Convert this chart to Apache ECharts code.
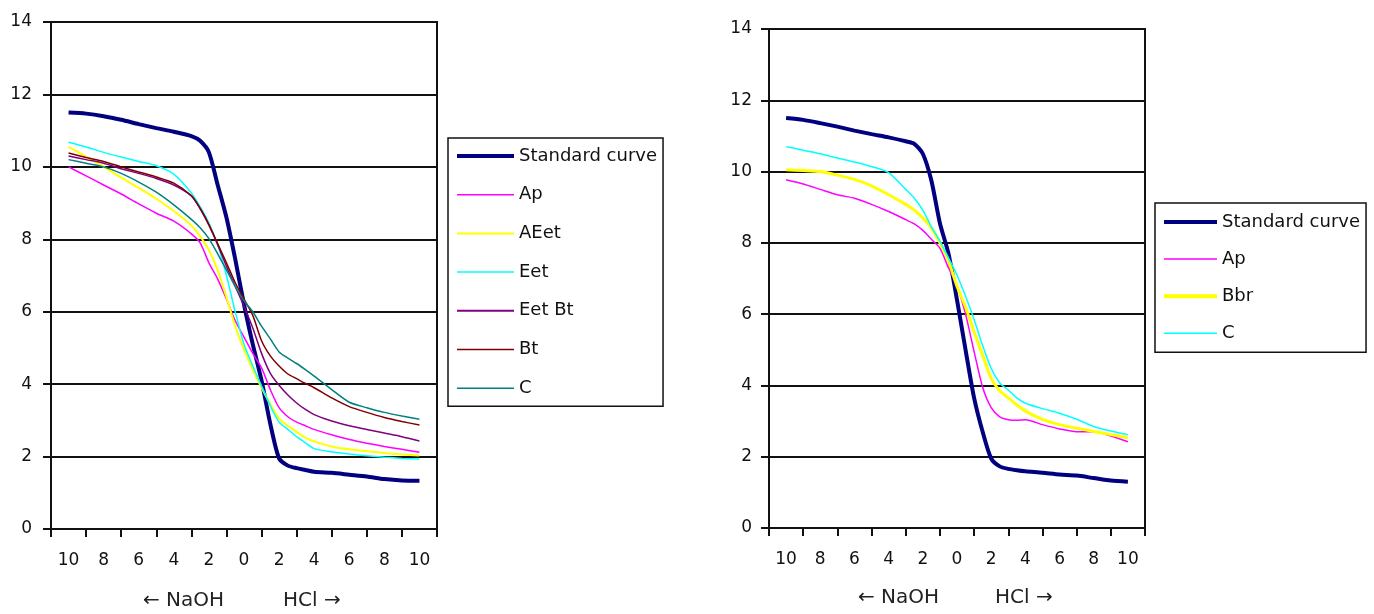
<!DOCTYPE html>
<html>
<head>
<meta charset="utf-8">
<script src="https://cdn.jsdelivr.net/npm/echarts@6/dist/echarts.min.js"></script>
<style>
html,body{margin:0;padding:0;background:#fff;}
#c{width:1374px;height:614px;}
</style>
</head>
<body>
<div id="c"></div>
<script>
// Category tick labels (ml of NaOH on the left, HCl on the right)
const xLabels = ['10','8','6','4','2','0','2','4','6','8','10'];
// Sample positions (negative = NaOH side, positive = HCl side)
const xs = [-10,-9,-8,-7,-6,-5,-4,-3,-2.5,-2,-1.5,-1,-0.5,0,0.5,1,1.5,2,2.5,3,3.5,4,5,6,7,8,9,10];

// Left chart series (pH)
const stdL   = [11.5,11.47,11.4,11.3,11.18,11.07,10.97,10.85,10.72,10.4,9.5,8.6,7.45,6.2,5.1,4.1,2.9,1.95,1.75,1.68,1.63,1.58,1.55,1.5,1.45,1.38,1.34,1.33];
const apL    = [10.0,9.75,9.5,9.25,8.98,8.72,8.5,8.15,7.9,7.35,6.9,6.35,5.75,5.3,4.85,4.45,3.85,3.35,3.1,2.95,2.85,2.75,2.6,2.47,2.37,2.28,2.2,2.12];
const aeetL  = [10.55,10.28,10.0,9.7,9.42,9.12,8.78,8.38,8.08,7.7,7.15,6.4,5.6,4.95,4.4,3.9,3.45,3.05,2.85,2.68,2.52,2.42,2.28,2.2,2.15,2.1,2.06,2.03];
const eetL   = [10.68,10.55,10.4,10.27,10.15,10.03,9.8,9.28,8.9,8.45,7.85,7.0,6.0,5.1,4.5,3.95,3.4,2.95,2.75,2.55,2.38,2.22,2.13,2.07,2.02,1.98,1.95,1.93];
const eetbtL = [10.3,10.2,10.1,9.95,9.82,9.68,9.5,9.2,8.85,8.4,7.85,7.25,6.7,6.15,5.55,4.85,4.3,3.97,3.7,3.48,3.3,3.16,2.98,2.85,2.75,2.65,2.55,2.43];
const btL    = [10.38,10.26,10.15,10.0,9.86,9.72,9.55,9.2,8.85,8.4,7.88,7.35,6.8,6.35,5.9,5.2,4.78,4.5,4.28,4.15,4.02,3.9,3.62,3.38,3.22,3.08,2.97,2.87];
const cL     = [10.2,10.1,10.0,9.82,9.58,9.3,8.95,8.55,8.32,8.02,7.6,7.15,6.7,6.3,6.0,5.6,5.25,4.89,4.72,4.57,4.4,4.22,3.85,3.5,3.35,3.22,3.12,3.03];

// Right chart series (pH)
const stdR = [11.5,11.45,11.36,11.26,11.15,11.05,10.96,10.85,10.78,10.5,9.75,8.55,7.7,6.4,5.0,3.65,2.7,1.95,1.73,1.66,1.62,1.59,1.55,1.5,1.47,1.4,1.33,1.3];
const apR  = [9.77,9.65,9.5,9.35,9.25,9.08,8.88,8.65,8.53,8.35,8.1,7.85,7.3,6.8,6.0,4.95,3.95,3.38,3.12,3.04,3.02,3.04,2.9,2.78,2.7,2.7,2.58,2.42];
const bbrR = [10.05,10.03,10.0,9.9,9.78,9.6,9.35,9.08,8.92,8.7,8.42,8.0,7.5,6.78,6.2,5.5,4.85,4.2,3.85,3.65,3.45,3.28,3.05,2.9,2.8,2.71,2.62,2.53];
const cR   = [10.7,10.6,10.5,10.38,10.27,10.14,9.97,9.5,9.25,8.92,8.45,8.05,7.58,7.1,6.5,5.85,5.12,4.48,4.07,3.87,3.65,3.5,3.35,3.22,3.05,2.85,2.72,2.62];

const namesL = ['Standard curve','Ap','AEet','Eet','Eet Bt','Bt','C'];
const namesR = ['Standard curve','Ap','Bbr','C'];

const FONT = 'DejaVu Sans';
const chart = echarts.init(document.getElementById('c'), null, {renderer:'canvas'});

function pts(ys){ return xs.map((x,i)=>[x, ys[i]]); }

function catAxis(gi){
  return {
    type:'category', gridIndex:gi, data:xLabels, boundaryGap:true,
    axisLine:{show:true, onZero:false, lineStyle:{color:'#111', width:2}},
    axisTick:{show:true, length:8, lineStyle:{color:'#111', width:2}, alignWithLabel:false},
    axisLabel:{color:'#111', fontSize:17, fontFamily:FONT, margin:23, interval:0},
    splitLine:{show:false}
  };
}
function valX(gi){
  return {type:'value', gridIndex:gi, min:-11, max:11, show:false};
}
function yAx(gi, margin){
  return {
    type:'value', gridIndex:gi, min:0, max:14, interval:2,
    axisLine:{show:true, onZero:false, lineStyle:{color:'#111', width:2}},
    axisTick:{show:true, length:8, lineStyle:{color:'#111', width:2}},
    axisLabel:{color:'#111', fontSize:17, fontFamily:FONT, margin:margin},
    splitLine:{show:true, lineStyle:{color:'#111', width:2}}
  };
}
function line(name, ys, color, width, xi, yi){
  return {
    name:name, type:'line', xAxisIndex:xi, yAxisIndex:yi,
    data:pts(ys), symbol:'none', smooth:0.25,
    lineStyle:{color:color, width:width}, itemStyle:{color:color},
    emphasis:{disabled:true}, animation:false
  };
}
function legendItems(names, colors, widths){
  return names.map((n,i)=>({name:n, itemStyle:{color:colors[i], opacity:0}, lineStyle:{color:colors[i], width:widths[i]}}));
}

const option = {
  backgroundColor:'#fff',
  animation:false,
  grid:[
    {left:51, top:22, width:386, height:507, show:true, borderColor:'#111', borderWidth:2},
    {left:769, top:29, width:376, height:499, show:true, borderColor:'#111', borderWidth:2}
  ],
  xAxis:[catAxis(0), valX(0), catAxis(1), valX(1)],
  yAxis:[yAx(0,19), yAx(1,17)],
  legend:[
    {
      data:legendItems(namesL, ['#000080','#ff00ff','#ffff00','#00ffff','#800080','#800000','#008080'], [4,1.5,2,1.5,2,1.5,1.5]),
      orient:'vertical', left:448, top:138,
      itemWidth:57, itemHeight:14, itemGap:20.7,
      padding:[9,6,9,7], borderColor:'#111', borderWidth:1.5,
      itemStyle:{opacity:0},
      textStyle:{color:'#111', fontSize:18, fontFamily:FONT},
      selectedMode:false
    },
    {
      data:legendItems(namesR, ['#000080','#ff00ff','#ffff00','#00ffff'], [4,1.5,4,1.5]),
      orient:'vertical', left:1155, top:203,
      itemWidth:53, itemHeight:14, itemGap:19.1,
      padding:[10,6,10,7], borderColor:'#111', borderWidth:1.5,
      itemStyle:{opacity:0},
      textStyle:{color:'#111', fontSize:18, fontFamily:FONT},
      selectedMode:false
    }
  ],
  graphic:[
    {type:'text', left:143, top:591, style:{text:'\u2190 NaOH', font:'20px "DejaVu Sans"', fill:'#222'}},
    {type:'text', left:283, top:591, style:{text:'HCl \u2192', font:'20px "DejaVu Sans"', fill:'#222'}},
    {type:'text', left:858, top:588, style:{text:'\u2190 NaOH', font:'20px "DejaVu Sans"', fill:'#222'}},
    {type:'text', left:995, top:588, style:{text:'HCl \u2192', font:'20px "DejaVu Sans"', fill:'#222'}}
  ],
  series:[
    line('Standard curve', stdL, '#000080', 4, 1, 0),
    line('Ap', apL, '#ff00ff', 1.5, 1, 0),
    line('AEet', aeetL, '#ffff00', 2, 1, 0),
    line('Eet', eetL, '#00ffff', 1.5, 1, 0),
    line('Eet Bt', eetbtL, '#800080', 1.5, 1, 0),
    line('Bt', btL, '#800000', 1.5, 1, 0),
    line('C', cL, '#008080', 1.5, 1, 0),
    line('Standard curve', stdR, '#000080', 4, 3, 1),
    line('Ap', apR, '#ff00ff', 1.5, 3, 1),
    line('Bbr', bbrR, '#ffff00', 3, 3, 1),
    line('C', cR, '#00ffff', 1.5, 3, 1)
  ]
};
chart.setOption(option);
</script>
</body>
</html>
